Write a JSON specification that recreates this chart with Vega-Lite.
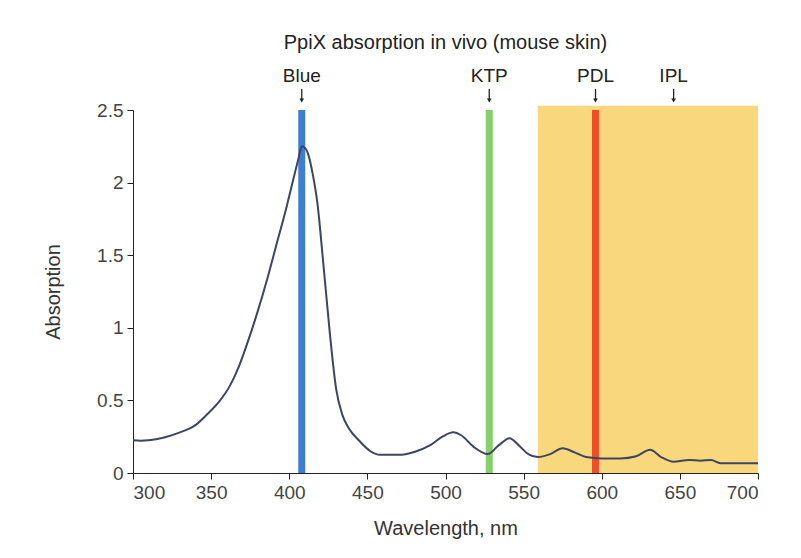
{
  "$schema": "https://vega.github.io/schema/vega-lite/v6.json",
  "autosize": "none",
  "width": 625,
  "height": 363,
  "padding": {"left": 133, "top": 110, "right": 43, "bottom": 85},
  "background": "white",
  "config": {
    "view": {"stroke": null},
    "font": "Liberation Sans",
    "axis": {"grid": false, "domainColor": "#222", "tickColor": "#222", "labelColor": "#444", "titleColor": "#333", "labelFontSize": 19, "titleFontSize": 20, "titleFontWeight": "normal", "labelFont": "Liberation Sans", "titleFont": "Liberation Sans", "tickSize": 6}
  },
  "title": {"text": "PpiX absorption in vivo (mouse skin)", "fontSize": 20, "fontWeight": "normal", "color": "#222", "offset": 14, "font": "Liberation Sans"},
  "datasets": {
    "curve": [
      {"wl": 300, "abs": 0.225}, {"wl": 305, "abs": 0.222}, {"wl": 310, "abs": 0.225}, {"wl": 320, "abs": 0.245},
      {"wl": 330, "abs": 0.28}, {"wl": 340, "abs": 0.33}, {"wl": 348, "abs": 0.41}, {"wl": 355, "abs": 0.49},
      {"wl": 362, "abs": 0.6}, {"wl": 368, "abs": 0.74}, {"wl": 374, "abs": 0.92}, {"wl": 380, "abs": 1.12},
      {"wl": 386, "abs": 1.34}, {"wl": 392, "abs": 1.58}, {"wl": 398, "abs": 1.82}, {"wl": 403, "abs": 2.04},
      {"wl": 406, "abs": 2.17}, {"wl": 408, "abs": 2.25}, {"wl": 410, "abs": 2.24}, {"wl": 412, "abs": 2.2},
      {"wl": 415, "abs": 2.06}, {"wl": 418, "abs": 1.86}, {"wl": 422, "abs": 1.42}, {"wl": 426, "abs": 0.96},
      {"wl": 430, "abs": 0.58}, {"wl": 434, "abs": 0.4}, {"wl": 438, "abs": 0.31}, {"wl": 445, "abs": 0.22},
      {"wl": 452, "abs": 0.15}, {"wl": 458, "abs": 0.125}, {"wl": 470, "abs": 0.125}, {"wl": 480, "abs": 0.145},
      {"wl": 490, "abs": 0.19}, {"wl": 498, "abs": 0.25}, {"wl": 505, "abs": 0.28}, {"wl": 510, "abs": 0.26},
      {"wl": 518, "abs": 0.18}, {"wl": 527, "abs": 0.13}, {"wl": 534, "abs": 0.19}, {"wl": 541, "abs": 0.24},
      {"wl": 547, "abs": 0.19}, {"wl": 553, "abs": 0.13}, {"wl": 559, "abs": 0.11}, {"wl": 567, "abs": 0.13},
      {"wl": 575, "abs": 0.17}, {"wl": 583, "abs": 0.14}, {"wl": 590, "abs": 0.11}, {"wl": 600, "abs": 0.1},
      {"wl": 612, "abs": 0.1}, {"wl": 622, "abs": 0.115}, {"wl": 631, "abs": 0.16}, {"wl": 638, "abs": 0.11},
      {"wl": 646, "abs": 0.078}, {"wl": 656, "abs": 0.09}, {"wl": 663, "abs": 0.085}, {"wl": 670, "abs": 0.09},
      {"wl": 676, "abs": 0.068}, {"wl": 700, "abs": 0.067}
    ],
    "bands": [
      {"name": "IPL", "start": 559, "end": 700, "bottom": 0, "top": 2.53}
    ],
    "lines": [
      {"name": "Blue", "wl": 408, "bottom": 0, "top": 2.5, "color": "#3d7fd0"},
      {"name": "KTP", "wl": 528, "bottom": 0, "top": 2.5, "color": "#86cf6c"},
      {"name": "PDL", "wl": 596, "bottom": 0, "top": 2.5, "color": "#f04e28"}
    ],
    "labels": [
      {"name": "Blue", "wl": 408, "ty": 2.693, "a1": 2.645, "a2": 2.57, "ah": 2.565},
      {"name": "KTP", "wl": 528, "ty": 2.693, "a1": 2.645, "a2": 2.57, "ah": 2.565},
      {"name": "PDL", "wl": 596, "ty": 2.693, "a1": 2.645, "a2": 2.57, "ah": 2.565},
      {"name": "IPL", "wl": 646, "ty": 2.693, "a1": 2.645, "a2": 2.57, "ah": 2.565}
    ]
  },
  "layer": [
    {
      "data": {"name": "bands"},
      "mark": {"type": "rect", "color": "#f9d77c"},
      "encoding": {
        "x": {"field": "start", "type": "quantitative", "scale": {"domain": [300, 700], "nice": false}, "axis": {"title": "Wavelength, nm", "values": [300, 350, 400, 450, 500, 550, 600, 650, 700], "titlePadding": 16, "labelPadding": 4}},
        "x2": {"field": "end"},
        "y": {"field": "bottom", "type": "quantitative", "scale": {"domain": [0, 2.5], "nice": false}, "axis": {"title": "Absorption", "values": [0, 0.5, 1, 1.5, 2, 2.5], "labelExpr": "'' + datum.value", "titlePadding": 33, "labelPadding": 4}},
        "y2": {"field": "top"}
      }
    },
    {
      "data": {"name": "lines"},
      "mark": {"type": "rule", "strokeWidth": 7},
      "encoding": {
        "x": {"field": "wl", "type": "quantitative"},
        "y": {"field": "bottom", "type": "quantitative"},
        "y2": {"field": "top"},
        "color": {"field": "color", "type": "nominal", "scale": null}
      }
    },
    {
      "data": {"name": "curve"},
      "mark": {"type": "line", "color": "#3c4564", "strokeWidth": 2, "interpolate": "monotone"},
      "encoding": {
        "x": {"field": "wl", "type": "quantitative"},
        "y": {"field": "abs", "type": "quantitative"}
      }
    },
    {
      "data": {"name": "labels"},
      "mark": {"type": "text", "fontSize": 19, "color": "#222", "baseline": "alphabetic", "align": "center"},
      "encoding": {
        "x": {"field": "wl", "type": "quantitative"},
        "y": {"field": "ty", "type": "quantitative"},
        "text": {"field": "name"}
      }
    },
    {
      "data": {"name": "labels"},
      "mark": {"type": "rule", "color": "#222", "strokeWidth": 1.3},
      "encoding": {
        "x": {"field": "wl", "type": "quantitative"},
        "y": {"field": "a1", "type": "quantitative"},
        "y2": {"field": "a2"}
      }
    },
    {
      "data": {"name": "labels"},
      "mark": {"type": "point", "shape": "triangle-down", "filled": true, "color": "#222", "size": 22, "opacity": 1},
      "encoding": {
        "x": {"field": "wl", "type": "quantitative"},
        "y": {"field": "ah", "type": "quantitative"}
      }
    }
  ]
}
